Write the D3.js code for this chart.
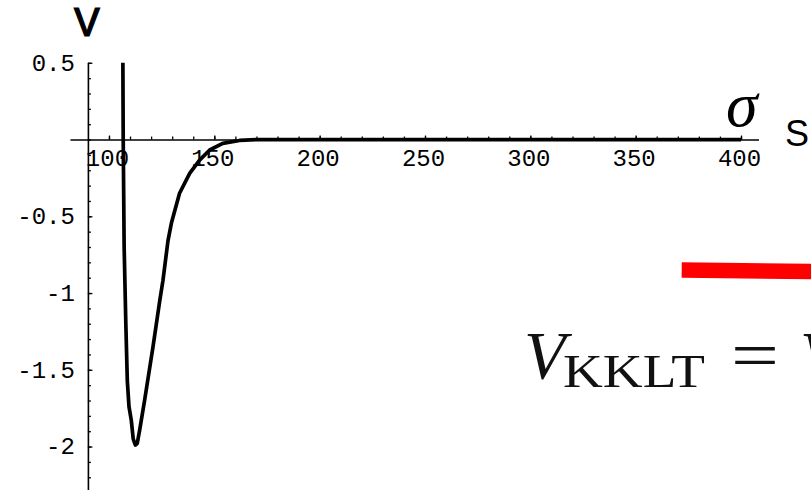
<!DOCTYPE html>
<html>
<head>
<meta charset="utf-8">
<script src="https://cdn.jsdelivr.net/npm/d3@7/dist/d3.min.js"></script>
<style>
  body { margin: 0; background: #fff; }
  svg { display: block; }
  .tick text { font-family: "Liberation Mono", monospace; font-size: 24px; fill: #000; }
</style>
</head>
<body>
<svg width="811" height="490"></svg>
<script>
const w = 811;
const h = 490;

// potential V(sigma)
const sigma = [106.6, 106.76, 107.2, 108.0, 108.7, 109.5, 110.6, 111.5, 112.5, 113.4,
  114.6, 116.9, 120.9, 124.1, 125.6, 128.0, 129.7, 133.5, 138.3, 143.0,
  147.8, 154.0, 162.0, 170.0, 400];
const V = [0.5, 0, -0.7, -1.2, -1.57, -1.74, -1.83, -1.95, -1.99, -1.98,
  -1.89, -1.7, -1.35, -1.05, -0.92, -0.66, -0.54, -0.35, -0.22, -0.134,
  -0.068, -0.025, -0.006, 0, 0];

const xTicks = [100, 150, 200, 250, 300, 350, 400];
const xMinor = d3.range(100, 401, 10);
const yTicks = [0.5, -0.5, -1, -1.5, -2];
const yMinor = d3.range(-22, 6, 1).map(d => d / 10);

const svg = d3.select("svg");

const xScale = d3.scaleLinear().domain([81.5, 408.3]).range([70, 758.5]);
const yScale = d3.scaleLinear().domain([-2.3, 0.5]).range([492.6, 62.8]);

const x0 = xScale(90);
const y0 = yScale(0);

// minor ticks
svg.append("g")
  .attr("transform", `translate(0, ${y0})`)
  .call(d3.axisBottom(xScale).tickValues(xMinor).tickSizeInner(-3).tickSizeOuter(0).tickFormat(""))
  .call(g => g.select(".domain").remove());

svg.append("g")
  .attr("transform", `translate(${x0}, 0)`)
  .call(d3.axisLeft(yScale).tickValues(yMinor).tickSizeInner(-3).tickSizeOuter(0).tickFormat(""))
  .call(g => g.select(".domain").remove());

// main axes
const xAxis = svg.append("g")
  .attr("transform", `translate(0, ${y0})`)
  .call(d3.axisBottom(xScale).tickValues(xTicks).tickSizeInner(-4).tickSizeOuter(0).tickPadding(9));

const yAxis = svg.append("g")
  .attr("transform", `translate(${x0}, 0)`)
  .call(d3.axisLeft(yScale).tickValues(yTicks).tickSizeInner(-4.5).tickSizeOuter(0).tickPadding(13)
    .tickFormat(d => d3.format("")(d).replace("\u2212", "-")));

svg.selectAll(".domain").attr("stroke-width", 1.6);
svg.selectAll(".tick line").attr("stroke-width", 1.3);
xAxis.selectAll(".tick text").attr("dx", -2);
yAxis.selectAll(".tick text").attr("dy", "0.3em");

// the curve
const line = d3.line()
  .x((d, i) => xScale(sigma[i]))
  .y(d => yScale(d));

svg.append("path")
  .datum(V)
  .attr("fill", "none")
  .attr("stroke", "#000")
  .attr("stroke-width", 3.7)
  .attr("stroke-linejoin", "round")
  .attr("d", line);

// axis labels
svg.append("text")
  .attr("x", 87)
  .attr("y", 36)
  .attr("text-anchor", "middle")
  .style("font-family", "Liberation Mono, monospace")
  .style("font-size", "43px")
  .attr("stroke", "#000")
  .attr("stroke-width", 1.2)
  .text("V");

svg.append("text")
  .attr("x", 726)
  .attr("y", 126)
  .style("font-family", "Liberation Serif, serif")
  .style("font-style", "italic")
  .style("font-size", "64px")
  .text("\u03c3");

svg.append("text")
  .attr("x", 785)
  .attr("y", 146)
  .style("font-family", "Liberation Sans, sans-serif")
  .style("font-size", "36px")
  .text("S");

// red bar from the slide
svg.append("line")
  .attr("x1", 681.7).attr("y1", 270)
  .attr("x2", 815).attr("y2", 271.5)
  .attr("stroke", "#ff0000")
  .attr("stroke-width", 15.5);

// formula
const f = svg.append("g").style("font-family", "Liberation Serif, serif").attr("fill", "#111");
f.append("text")
  .attr("x", 524).attr("y", 378)
  .style("font-style", "italic").style("font-size", "68px")
  .text("V");
f.append("text")
  .attr("x", 563).attr("y", 387)
  .style("font-size", "46px")
  .attr("textLength", 142).attr("lengthAdjust", "spacingAndGlyphs")
  .text("KKLT");
f.append("text")
  .attr("x", 731).attr("y", 378)
  .style("font-size", "68px")
  .attr("textLength", 48).attr("lengthAdjust", "spacingAndGlyphs")
  .text("=");
f.append("text")
  .attr("x", 800).attr("y", 378)
  .style("font-style", "italic").style("font-size", "68px")
  .text("V");
</script>
</body>
</html>
